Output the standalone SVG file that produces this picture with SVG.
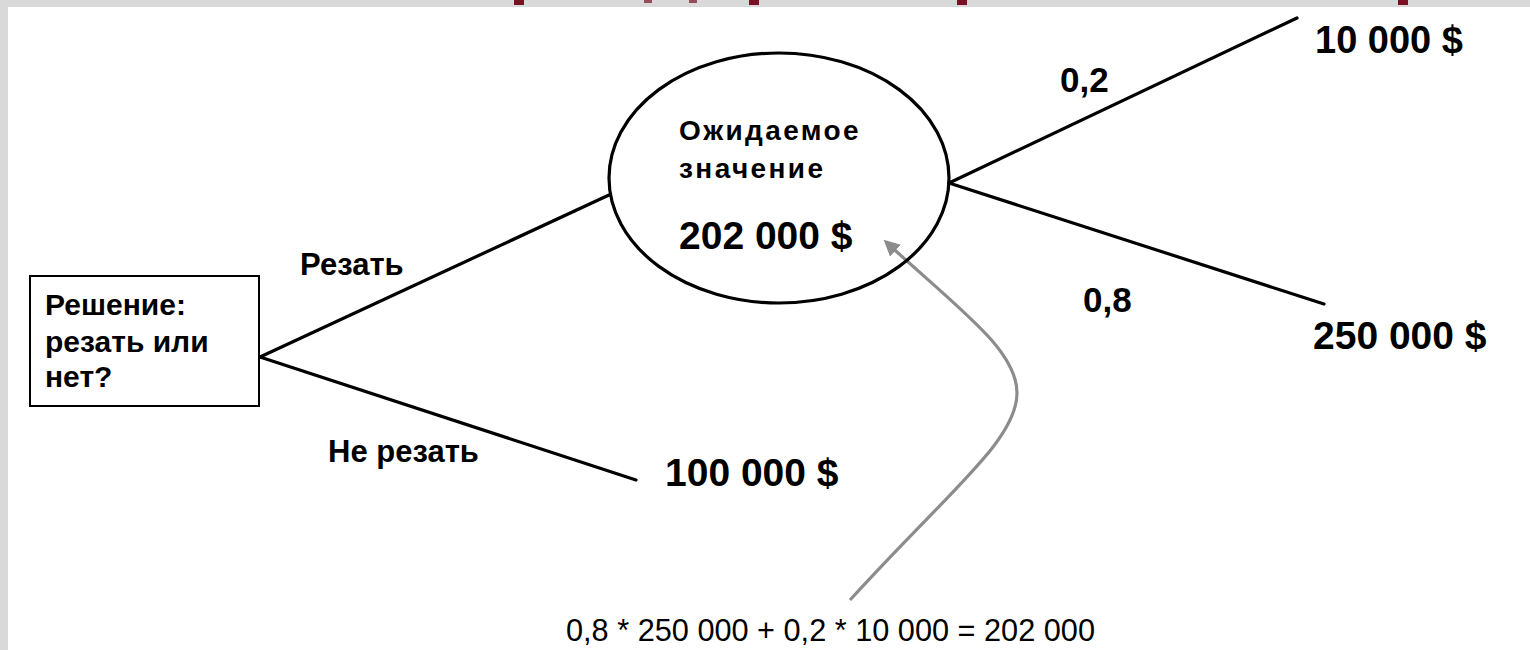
<svg xmlns="http://www.w3.org/2000/svg" width="1530" height="650" viewBox="0 0 1530 650">
<defs>
<style>
.b{font-family:"Liberation Sans",Arial,sans-serif;font-weight:bold;fill:#000}
.r{font-family:"Liberation Sans",Arial,sans-serif;fill:#000}
.ln{stroke:#000;stroke-width:3.2;fill:none;stroke-linecap:round}
.bar{fill:#7b1025}
</style>
<marker id="ah" viewBox="0 0 10 10" refX="8" refY="5" markerWidth="5" markerHeight="5" orient="auto" markerUnits="strokeWidth">
<path d="M0,0 L10,5 L0,10 z" fill="#8c8c8c"/>
</marker>
</defs>
<rect x="0" y="0" width="1530" height="650" fill="#d9d9d9"/>
<rect x="8" y="7" width="1522" height="643" fill="#fff"/>
<g id="title-remnant">
<rect class="bar" x="514" y="0" width="10" height="5"/>
<rect class="bar" x="644" y="0" width="8" height="3" opacity="0.7"/>
<rect class="bar" x="689" y="0" width="8" height="3" opacity="0.7"/>
<rect class="bar" x="749" y="0" width="10" height="5"/>
<rect class="bar" x="957" y="0" width="10" height="5"/>
<rect class="bar" x="1398" y="0" width="10" height="5"/>
</g>
<g id="connectors">
<line class="ln" x1="260" y1="357" x2="609" y2="195"/>
<line class="ln" x1="260" y1="357" x2="636" y2="480"/>
<line class="ln" x1="949" y1="183" x2="1297" y2="18"/>
<line class="ln" x1="949" y1="183" x2="1324" y2="304"/>
<path d="M850,600 C950,490 1017,440 1017,393 C1017,350 960,310 886,242" fill="none" stroke="#8c8c8c" stroke-width="3.2" marker-end="url(#ah)"/>
</g>
<g id="decision">
<rect x="30" y="276" width="229" height="130" fill="#fff" stroke="#000" stroke-width="2"/>
<text class="b" font-size="30"><tspan x="45" y="315">Решение:</tspan><tspan x="45" y="352">резать или</tspan><tspan x="45" y="387">нет?</tspan></text>
</g>
<g id="chance">
<ellipse cx="779" cy="178" rx="170" ry="125" fill="none" stroke="#000" stroke-width="3.2"/>
<text class="b" font-size="28" letter-spacing="2.4" x="679" y="140">Ожидаемое</text>
<text class="b" font-size="28" letter-spacing="2.4" x="679" y="178">значение</text>
<text class="b" font-size="39" x="679" y="249">202 000 $</text>
</g>
<g id="labels">
<text class="b" font-size="31" x="300" y="275">Резать</text>
<text class="b" font-size="31" x="328" y="462">Не резать</text>
<text class="b" font-size="35" x="1060" y="92">0,2</text>
<text class="b" font-size="35" x="1083" y="312">0,8</text>
</g>
<g id="outcome-no">
<text class="b" font-size="39" x="665" y="486">100 000 $</text>
</g>
<g id="outcome-low">
<text class="b" font-size="38" x="1315" y="53">10 000 $</text>
</g>
<g id="outcome-high">
<text class="b" font-size="39" x="1313" y="349">250 000 $</text>
</g>
<g id="formula">
<text class="r" font-size="30.7" x="566" y="641">0,8 * 250 000 + 0,2 * 10 000 = 202 000</text>
</g>
</svg>
